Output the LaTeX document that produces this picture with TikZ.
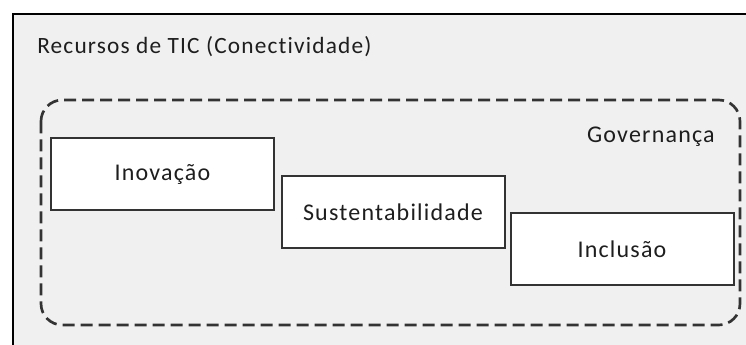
\documentclass[tikz,border=0pt]{standalone}
\usepackage{fontspec}
\setmainfont{Carlito}[Ligatures=NoCommon, LetterSpace=5]
\definecolor{panel}{HTML}{F0F0F0}
\definecolor{ink}{HTML}{1E1E1E}
\definecolor{edge}{HTML}{333333}
\begin{document}
\begin{tikzpicture}[x=0.75pt,y=-0.75pt,
  every node/.style={font=\fontsize{18}{22}\selectfont, text=ink, inner sep=0pt},
  pillar/.style={draw=edge, fill=white, line width=1.5pt,
    minimum width=167.25pt, minimum height=54pt},
  scopeline/.style={draw=edge, line width=2pt, dash pattern=on 9pt off 4.5pt,
    rounded corners=16pt}]
  % page area
  \clip (0,0) rectangle (746,345);
  \fill[white] (0,0) rectangle (746,345);
  % outer panel, running off the right and bottom edges
  \draw[fill=panel, line width=1.5pt, draw=black] (13,14) rectangle (800,400);
  \node[anchor=base west, font=\fontsize{17.5}{21}\selectfont] (recursos) at (37,54)
    {Recursos de TIC (Conectividade)};
  % governance frame
  \draw[scopeline] (41,100) rectangle (740,325);
  \node[anchor=base east] (gov) at (715,143) {Governança};
  % the three pillars
  \node[pillar] (inov) at (162.5,174.5) {Inovação};
  \node[pillar] (sust) at (393,212.5) {Sustentabilidade};
  \node[pillar] (incl) at (622,249) {Inclusão};
\end{tikzpicture}
\end{document}
